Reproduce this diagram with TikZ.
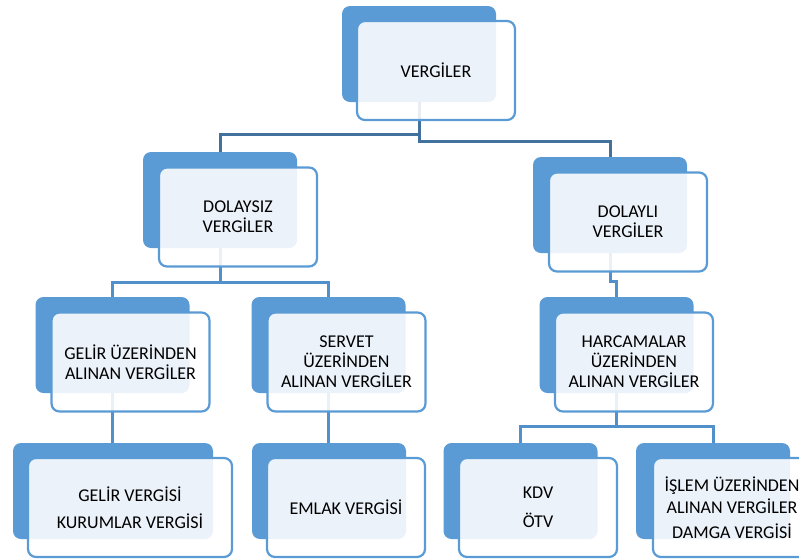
\documentclass[tikz,border=0pt]{standalone}
\usepackage{fontspec}
\setmainfont{Carlito}
\definecolor{blueA}{HTML}{5B9BD5}
\definecolor{blueD}{HTML}{41719C}
\definecolor{blueC}{HTML}{5290CB}
\begin{document}
\begin{tikzpicture}[x=1pt,y=-1pt,
  back/.style={fill=blueA, draw=none, rounded corners=8pt, minimum width=154pt, minimum height=96pt, inner sep=0pt},
  front/.style={fill=white, fill opacity=0.88, text opacity=1, draw=blueA, line width=2.2pt, rounded corners=8pt,
    minimum width=158pt, minimum height=99pt, inner sep=0pt, align=center, font=\fontsize{18}{20}\selectfont},
  connD/.style={draw=blueD, line width=3pt},
  conn/.style={draw=blueC, line width=3pt},
]
\useasboundingbox (0,0) rectangle (799,558);
\clip (0,0) rectangle (799,558);
% back boxes
\node[back] (vb) at (419,54) {};
\node[back] (db) at (220,200) {};
\node[back] (dlb) at (610,205) {};
\node[back] (gb) at (112.5,345) {};
\node[back] (sb) at (328.5,345) {};
\node[back] (hb) at (616.5,345) {};
\node[back, minimum width=200pt] (gvb) at (113,491) {};
\node[back] (eb) at (329,491) {};
\node[back] (kb) at (520.5,491) {};
\node[back] (ib) at (713,491) {};
% bus levels
\coordinate (busA) at (0,134);
\coordinate (busB) at (0,141);
\coordinate (busC) at (0,282);
\coordinate (busD) at (0,281);
\coordinate (busE) at (0,426);
% connectors
\draw[connD] (vb.south) -- (vb.south |- busA) -| (db.north);
\draw[connD] (vb.south) -- (vb.south |- busB) -| (dlb.north);
\draw[conn] (db.south) -- (db.south |- busC) -| (gb.north);
\draw[conn] (db.south |- busC) -| (sb.north);
\draw[conn] (dlb.south) -- (dlb.south |- busD) -| (hb.north);
\draw[conn] (gb.south) -- (gb.south |- gvb.north);
\draw[conn] (sb.south) -- (sb.south |- eb.north);
\draw[conn] (hb.south) -- (hb.south |- busE) -| (kb.north);
\draw[conn] (hb.south |- busE) -| (ib.north);
% front boxes
\node[front] (vf) at (436,70.5) {VERGİLER};
\node[front] (df) at (238,217) {DOLAYSIZ\\VERGİLER};
\node[front] (dlf) at (628,222) {DOLAYLI\\VERGİLER};
\node[front] (gf) at (130.5,362) {GELİR ÜZERİNDEN\\ALINAN VERGİLER};
\node[front] (sf) at (346.5,362) {SERVET\\ÜZERİNDEN\\ALINAN VERGİLER};
\node[front] (hf) at (634,362) {HARCAMALAR\\ÜZERİNDEN\\ALINAN VERGİLER};
\node[front, minimum width=204pt] (gvf) at (130,507.5) {GELİR VERGİSİ\\[7pt]KURUMLAR VERGİSİ};
\node[front] (ef) at (346,507.5) {EMLAK VERGİSİ};
\node[front] (kf) at (538,507.5) {KDV\\[9pt]ÖTV};
\node[front] (islf) at (732,507.5) {İŞLEM ÜZERİNDEN\\[2pt]ALINAN VERGİLER\\[5pt]DAMGA VERGİSİ};
\end{tikzpicture}
\end{document}
